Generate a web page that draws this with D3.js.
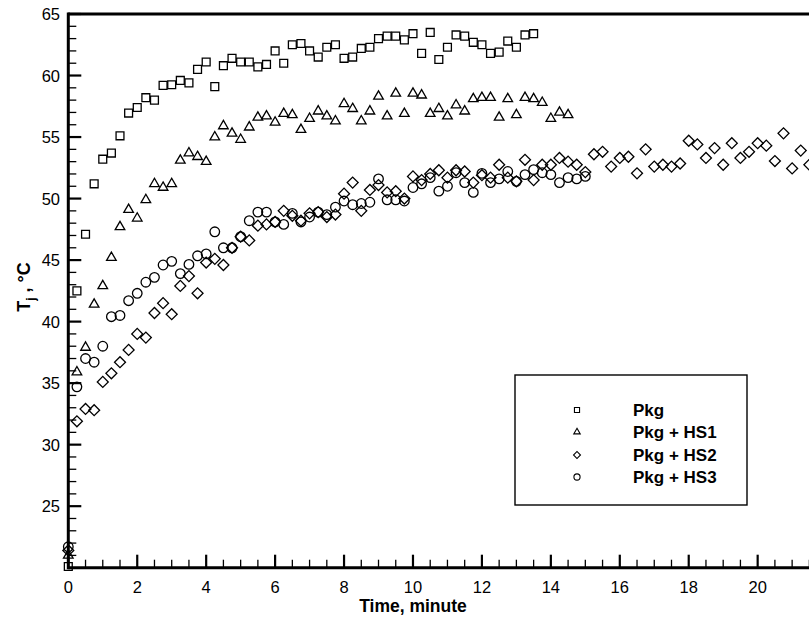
<!DOCTYPE html>
<html>
<head>
<meta charset="utf-8">
<script src="https://cdn.jsdelivr.net/npm/d3@7/dist/d3.min.js"></script>
<style>
  html, body { margin: 0; padding: 0; background: #fff; }
  svg { display: block; font-family: "Liberation Sans", Arial, Helvetica, sans-serif; }
</style>
</head>
<body>
<svg id="chart" width="809" height="620"></svg>
<script>
// ---- Data ----
const minutes = [0,0.25,0.5,0.75,1,1.25,1.5,1.75,2,2.25,2.5,2.75,3,3.25,3.5,3.75,4,4.25,4.5,4.75,5,5.25,5.5,5.75,6,6.25,6.5,6.75,7,7.25,7.5,7.75,8,8.25,8.5,8.75,9,9.25,9.5,9.75,10,10.25,10.5,10.75,11,11.25,11.5,11.75,12,12.25,12.5,12.75,13,13.25,13.5,13.75,14,14.25,14.5,14.75,15,15.25,15.5,15.75,16,16.25,16.5,16.75,17,17.25,17.5,17.75,18,18.25,18.5,18.75,19,19.25,19.5,19.75,20,20.25,20.5,20.75,21,21.25,21.5];

const pkg = [20.1,42.5,47.1,51.2,53.2,53.7,55.1,56.95,57.4,58.2,58.0,59.2,59.25,59.6,59.4,60.5,61.1,59.1,60.8,61.4,61.1,61.1,60.7,60.9,62.0,61.0,62.5,62.6,62.0,61.5,62.3,62.5,61.4,61.5,62.2,62.3,63.0,63.2,63.2,62.9,63.4,61.8,63.5,61.3,62.3,63.3,63.2,62.7,62.5,61.8,61.9,62.8,62.3,63.3,63.4];

const hs1 = [21.0,35.9,37.9,41.4,42.9,45.2,47.7,49.1,48.4,49.9,51.2,50.9,51.2,53.1,53.7,53.4,53.0,55.0,55.9,55.3,54.8,55.8,56.6,56.7,56.2,56.9,56.8,55.6,56.5,57.1,56.7,56.3,57.7,57.3,56.3,57.1,58.3,56.7,58.55,56.9,58.55,58.4,56.9,57.3,56.7,57.6,57.1,58.1,58.2,58.2,56.6,58.1,56.8,58.2,58.1,57.8,56.5,57.0,56.8];

const hs2 = [21.4,31.9,32.9,32.8,35.1,35.8,36.7,37.7,39.0,38.7,40.7,41.5,40.6,42.9,43.7,42.3,44.8,45.1,44.6,46.0,46.9,46.6,47.8,47.9,48.1,49.0,48.6,48.2,48.8,48.9,48.5,48.7,50.4,51.3,49.0,50.7,51.1,50.5,50.6,50.0,51.8,51.5,52.0,52.3,51.7,52.3,52.2,51.3,51.9,51.7,52.75,51.7,51.4,53.15,51.5,52.75,52.75,53.3,53.0,52.75,52.15,53.6,53.8,52.6,53.3,53.4,52.05,54.0,52.6,52.75,52.6,52.85,54.7,54.4,53.3,54.1,52.75,54.5,53.3,53.8,54.5,54.3,53.05,55.3,52.45,53.9,52.75];

const hs3 = [21.7,34.7,37.0,36.7,38.0,40.4,40.5,41.7,42.3,43.2,43.6,44.6,44.9,43.9,44.65,45.35,45.5,47.3,46.0,46.0,46.9,48.2,48.9,48.9,48.1,47.9,48.8,48.1,48.5,48.9,48.7,49.3,49.8,49.5,49.6,49.7,51.6,49.9,49.9,49.8,50.9,51.2,51.7,50.6,51.0,52.1,51.3,50.5,52.05,51.3,51.6,52.2,51.4,51.95,52.35,52.1,51.95,51.3,51.7,51.6,51.8];

const seriesNames = ["Pkg", "Pkg + HS1", "Pkg + HS2", "Pkg + HS3"];
const xTicks = [0,2,4,6,8,10,12,14,16,18,20];
const yTicks = [25,30,35,40,45,50,55,60,65];

// ---- Layout ----
const svg = d3.select("#chart");
const x = d3.scaleLinear().domain([0, 22]).range([68.3, 826.6]);
const y = d3.scaleLinear().domain([20, 65]).range([567.7, 14]);

const symbols = [
  { type: d3.symbolSquare, size: 62, rotate: 0 },
  { type: d3.symbolTriangle, size: 40, rotate: 0 },
  { type: d3.symbolSquare, size: 60, rotate: 45 },
  { type: d3.symbolCircle, size: 72, rotate: 0 }
];
const allSeries = [pkg, hs1, hs2, hs3];

// ---- Points ----
const gPts = svg.append("g");
allSeries.forEach((vals, si) => {
  const s = symbols[si];
  const path = d3.symbol().type(s.type).size(s.size)();
  gPts.append("g").selectAll("path")
    .data(vals.map((v, i) => [minutes[i], v]))
    .join("path")
    .attr("d", path)
    .attr("transform", d => `translate(${x(d[0])},${y(d[1])}) rotate(${s.rotate})`)
    .attr("fill", "none")
    .attr("stroke", "#000")
    .attr("stroke-width", 1.3);
});

// ---- Axes ----
const axisG = svg.append("g");
const xMinor = d3.range(0, 22.01, 0.5).filter(v => v % 2 !== 0);
const yMinor = d3.range(21, 65, 1).filter(v => !yTicks.includes(v));

axisG.selectAll(".xminor").data(xMinor).join("line")
  .attr("x1", d => x(d)).attr("x2", d => x(d))
  .attr("y1", y(20)).attr("y2", y(20) - 8)
  .attr("stroke", "#000").attr("stroke-width", 1.3);
axisG.selectAll(".xmajor").data(xTicks).join("line")
  .attr("x1", d => x(d)).attr("x2", d => x(d))
  .attr("y1", y(20)).attr("y2", y(20) - 13)
  .attr("stroke", "#000").attr("stroke-width", 2.2);
axisG.selectAll(".yminor").data(yMinor).join("line")
  .attr("x1", x(0)).attr("x2", x(0) + 8)
  .attr("y1", d => y(d)).attr("y2", d => y(d))
  .attr("stroke", "#000").attr("stroke-width", 1.3);
axisG.selectAll(".ymajor").data(yTicks).join("line")
  .attr("x1", x(0)).attr("x2", x(0) + 13)
  .attr("y1", d => y(d)).attr("y2", d => y(d))
  .attr("stroke", "#000").attr("stroke-width", 2.2);

axisG.append("line").attr("x1", x(0)).attr("x2", 809).attr("y1", y(20)).attr("y2", y(20))
  .attr("stroke", "#000").attr("stroke-width", 3);
axisG.append("line").attr("x1", x(0)).attr("x2", 809).attr("y1", y(65)).attr("y2", y(65))
  .attr("stroke", "#000").attr("stroke-width", 3);
axisG.append("line").attr("x1", x(0)).attr("x2", x(0)).attr("y1", y(65) - 1.5).attr("y2", y(20) + 1.5)
  .attr("stroke", "#000").attr("stroke-width", 3);

axisG.selectAll(".xl").data(xTicks).join("text")
  .attr("x", d => x(d)).attr("y", 593)
  .attr("text-anchor", "middle")
  .attr("font-size", 16.5)
  .text(d => d);
axisG.selectAll(".yl").data(yTicks).join("text")
  .attr("x", 60).attr("y", d => y(d) + 6)
  .attr("text-anchor", "end")
  .attr("font-size", 16.5)
  .text(d => d);

svg.append("text")
  .attr("x", 413).attr("y", 612)
  .attr("text-anchor", "middle")
  .attr("font-size", 17.5).attr("font-weight", "bold")
  .text("Time, minute");

const yt = svg.append("text")
  .attr("transform", "translate(30,287) rotate(-90)")
  .attr("text-anchor", "middle")
  .attr("font-size", 18).attr("font-weight", "bold");
yt.append("tspan").text("T");
yt.append("tspan").attr("font-size", 12).attr("dy", 5).text("j");
yt.append("tspan").attr("dy", -5).text(" , °C");

// ---- Legend ----
const lg = svg.append("g");
lg.append("rect").attr("x", 515).attr("y", 375).attr("width", 232).attr("height", 130)
  .attr("fill", "#fff").attr("stroke", "#000").attr("stroke-width", 1.4);
const legendRows = [410, 432, 455, 477];
const legendSizes = [26, 18, 24, 30];
seriesNames.forEach((name, i) => {
  const s = symbols[i];
  lg.append("path")
    .attr("d", d3.symbol().type(s.type).size(legendSizes[i])())
    .attr("transform", `translate(577,${legendRows[i]}) rotate(${s.rotate})`)
    .attr("fill", "none").attr("stroke", "#000").attr("stroke-width", 1.1);
  lg.append("text")
    .attr("x", 633).attr("y", legendRows[i] + 6)
    .attr("font-size", 17).attr("font-weight", "bold")
    .text(name);
});
</script>
</body>
</html>
